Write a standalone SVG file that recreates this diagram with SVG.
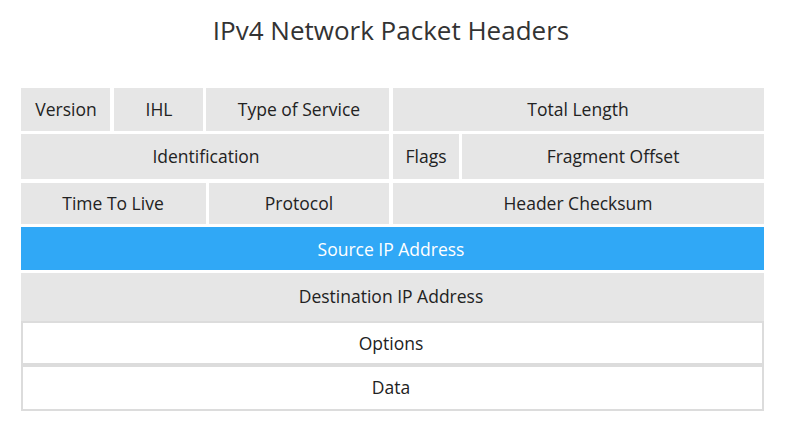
<svg xmlns="http://www.w3.org/2000/svg" width="792" height="438" viewBox="0 0 792 438">
<style>
.c{fill:#e6e6e6}
.w{fill:#ffffff;stroke:#dcdcdc;stroke-width:2}
.b{fill:#30a8f6}
text{font-family:"Open Sans","Liberation Sans",sans-serif;font-size:17.5px;fill:#222;text-anchor:middle;dominant-baseline:central}
.t{font-size:26px;fill:#333}
.wt{fill:#ffffff}
</style>
<rect width="792" height="438" fill="#ffffff"/>
<text class="t" x="391" y="30">IPv4 Network Packet Headers</text>
<g id="version"><rect class="c" x="21" y="88" width="89" height="43"/><text x="66" y="109">Version</text></g>
<g id="ihl"><rect class="c" x="114" y="88" width="89" height="43"/><text x="159" y="109">IHL</text></g>
<g id="tos"><rect class="c" x="206" y="88" width="183" height="43"/><text x="299" y="109">Type of Service</text></g>
<g id="total-length"><rect class="c" x="393" y="88" width="371" height="43"/><text x="578" y="109">Total Length</text></g>
<g id="identification"><rect class="c" x="21" y="134" width="368" height="45"/><text x="206" y="156">Identification</text></g>
<g id="flags"><rect class="c" x="393" y="134" width="66" height="45"/><text x="426" y="156">Flags</text></g>
<g id="fragment-offset"><rect class="c" x="462" y="134" width="302" height="45"/><text x="613" y="156">Fragment Offset</text></g>
<g id="ttl"><rect class="c" x="21" y="183" width="185" height="41"/><text x="113" y="203">Time To Live</text></g>
<g id="protocol"><rect class="c" x="209" y="183" width="180" height="41"/><text x="299" y="203">Protocol</text></g>
<g id="header-checksum"><rect class="c" x="393" y="183" width="371" height="41"/><text x="578" y="203">Header Checksum</text></g>
<g id="source-ip"><rect class="b" x="21" y="227" width="743" height="43"/><text class="wt" x="391" y="249">Source IP Address</text></g>
<g id="destination-ip"><rect class="c" x="21" y="273" width="743" height="49"/><text x="391" y="296">Destination IP Address</text></g>
<g id="options"><rect class="w" x="22" y="322" width="741" height="42"/><text x="391" y="343">Options</text></g>
<g id="data"><rect class="w" x="22" y="366" width="741" height="44"/><text x="391" y="387">Data</text></g>
<g id="connectors"/>
</svg>
